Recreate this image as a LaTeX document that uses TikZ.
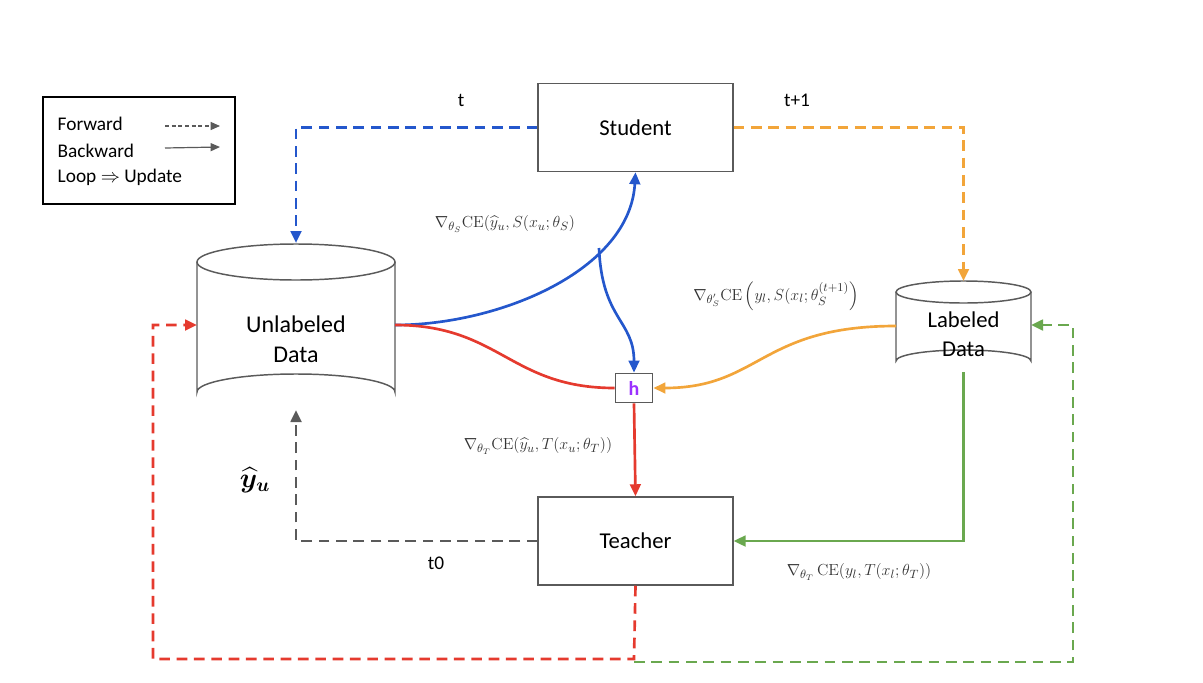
\documentclass[tikz,border=0pt]{standalone}
\usepackage{amsmath}
\usepackage[no-math]{fontspec}
\setmainfont{Carlito}
\usetikzlibrary{arrows.meta,calc}
\definecolor{cblue}{HTML}{2457CC}
\definecolor{corange}{HTML}{F2A53A}
\definecolor{cred}{HTML}{E53A2E}
\definecolor{cgreen}{HTML}{6AA84F}
\definecolor{cgray}{HTML}{5A5A5A}
\definecolor{cpurple}{HTML}{9B30FF}
\begin{document}
\begin{tikzpicture}[x=0.75pt,y=-0.75pt,
  edge/.style={draw=cgray,line width=1.1pt},
  box/.style={edge,minimum width=146pt,minimum height=66pt,font=\fontsize{17}{20}\selectfont},
  lbl/.style={font=\fontsize{14.5}{17}\selectfont},
  mlbl/.style={font=\fontsize{12.5}{15}\selectfont,text=black!80},
  ar/.style={-{Triangle[length=9pt,width=8pt]},line width=2pt},
  da/.style={ar,dash pattern=on 8pt off 5pt}]
\useasboundingbox (0,0) rectangle (1203,682);
% legend
\node[draw=black,line width=1.1pt,minimum width=144pt,minimum height=80pt] (leg) at (139,150.5) {};
\node[lbl,anchor=west] (lf) at (53,124) {Forward};
\node[lbl,anchor=west] (lb) at (53,151) {Backward};
\node[lbl,anchor=west] (ll) at (53,177) {Loop $\Rightarrow$ Update};
\coordinate (lf1) at (165,126); \coordinate (lf2) at (220,126);
\coordinate (lb1) at (165,148); \coordinate (lb2) at (220,147);
\draw[cgray,line width=0.9pt,-{Triangle[length=7pt,width=6pt]},dash pattern=on 3pt off 2pt] (lf1) -- (lf2);
\draw[cgray,line width=0.9pt,-{Triangle[length=7pt,width=6pt]}] (lb1) -- (lb2);
% boxes
\node[box] (S) at (635.5,127.5) {Student};
\node[box] (T) at (635.5,541) {Teacher};
\node[edge,minimum width=28pt,minimum height=22pt,inner sep=0pt,text=cpurple,font=\fontsize{15}{17}\selectfont\bfseries] (h) at (634,388) {h};
% cylinders
\draw[edge,fill=white] (197,262) -- (197,392) arc[start angle=180,end angle=360,x radius=99,y radius=18] -- (395,262);
\draw[edge] (296,262) ellipse[x radius=99,y radius=18];
\node[font=\fontsize{18}{22.5}\selectfont,align=center] (U) at (296,339) {Unlabeled\\Data};
\coordinate (Utop) at (296,243); \coordinate (Ubot) at (296,410);
\coordinate (Uleft) at (197,325); \coordinate (Uright) at (395,325);
\draw[edge,fill=white] (896,292) -- (896,361) arc[start angle=180,end angle=360,x radius=67.5,y radius=11] -- (1031,292);
\draw[edge] (963.5,292) ellipse[x radius=67.5,y radius=11];
\node[font=\fontsize{17}{21.5}\selectfont,align=center] (L) at (963.5,334) {Labeled\\Data};
\coordinate (Ltop) at (963.5,281); \coordinate (Lbot) at (963.5,372);
\coordinate (Lleft) at (896,326); \coordinate (Lright) at (1031,325);
% dashed loops
\draw[da,cblue] (S.west) -- (296,127.5) -- (Utop);
\draw[da,corange] (S.east) -- (963.5,127.5) -- (Ltop);
\draw[da,cgray] (T.west) -- (296,541) -- (Ubot);
\draw[da,cred] (T.south) -- (634,659) -- (153,659) -- (153,325) -- (Uleft);
\draw[da,cgreen] (634,662) -- (1073,662) -- (1073,325) -- (Lright);
% solid
\draw[ar,cblue] (Uright) .. controls (500,325) and (630,270) .. (S.south);
\coordinate (br) at (599,248);
\draw[ar,cblue] (br) .. controls (602,320) and (634,320) .. (h.north);
\draw[line width=2pt,cred] (Uright) .. controls (500,325) and (510,388) .. (h.west);
\draw[ar,cred] (h.south) -- (T.north);
\draw[ar,corange] (Lleft) .. controls (760,326) and (760,388) .. (h.east);
\draw[ar,cgreen] (Lbot) -- (963.5,541) -- (T.east);
% labels
\node[lbl] (t) at (461,100) {t};
\node[lbl] (t1) at (797,100) {t+1};
\node[lbl] (t0) at (436,563) {t0};
\node[font=\fontsize{21}{23}\selectfont] (yu) at (255,480) {$\boldsymbol{\widehat{y}_u}$};
\node[mlbl] (g1) at (505,224) {$\nabla_{\theta_S}\mathrm{CE}(\widehat{y}_u,S(x_u;\theta_S)$};
\node[mlbl] (g2) at (776,296) {$\nabla_{\theta'_S}\mathrm{CE}\left(y_l,S(x_l;\theta_S^{(t+1)}\right)$};
\node[mlbl] (g3) at (538,446) {$\nabla_{\theta_T}\mathrm{CE}(\widehat{y}_u,T(x_u;\theta_T))$};
\node[mlbl] (g4) at (859,572) {$\nabla_{\theta_T}\,\mathrm{CE}(y_l,T(x_l;\theta_T))$};
\end{tikzpicture}
\end{document}
